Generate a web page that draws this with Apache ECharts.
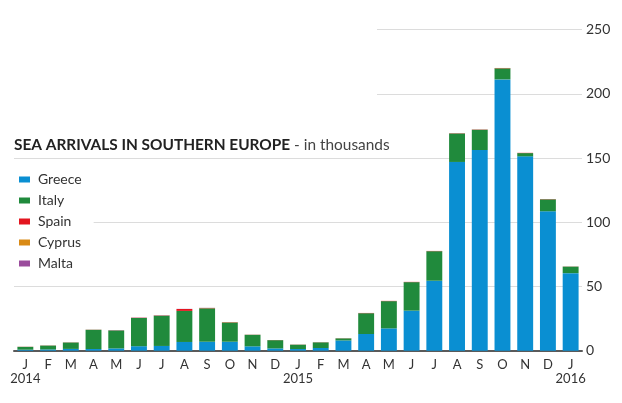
<!DOCTYPE html>
<html>
<head>
<meta charset="utf-8">
<script src="https://cdn.jsdelivr.net/npm/echarts@6/dist/echarts.min.js"></script>
<style>
html,body{margin:0;padding:0;background:#fff;}
#chart{width:622px;height:403px;}
</style>
</head>
<body>
<div id="chart"></div>
<script>
const months = ['J','F','M','A','M','J','J','A','S','O','N','D','J','F','M','A','M','J','J','A','S','O','N','D','J'];
const years = {0:'2014',12:'2015',24:'2016'};
const greece = [0.8,1.0,1.4,1.3,1.8,3.5,3.7,6.8,7.0,7.0,3.4,1.8, 1.3,2.1,8.0,13.0,17.4,31.2,54.5,147.0,156.3,211.3,151.4,108.6, 60.4];
const italy  = [2.2,3.0,5.0,15.0,14.0,22.0,23.6,24.2,26.0,15.0,9.0,6.4, 3.4,4.4,1.6,16.2,21.2,22.2,23.0,22.2,15.8,8.6,2.5,9.3, 5.1];
const spain  = [0.1,0.1,0.1,0.1,0.1,0.2,0.2,1.5,0.2,0.2,0.1,0.1, 0.1,0.1,0.1,0.2,0.2,0.2,0.2,0.2,0.2,0.2,0.2,0.2, 0.1];
const cyprus = [0,0,0,0,0,0,0,0,0.1,0.1,0,0, 0,0,0,0,0,0,0,0,0,0.1,0,0, 0];
const malta  = [0,0,0,0,0.1,0.1,0.1,0.1,0.1,0,0,0, 0,0,0,0,0,0,0,0,0,0,0,0, 0];
const yTicks = [0,50,100,150,200,250];

const seriesDefs = [
  {name:'Greece', data:greece, color:'#0a8fd2'},
  {name:'Italy',  data:italy,  color:'#208a3c'},
  {name:'Spain',  data:spain,  color:'#e3151f'},
  {name:'Cyprus', data:cyprus, color:'#d98a16'},
  {name:'Malta',  data:malta,  color:'#9a4c9c'}
];

const chart = echarts.init(document.getElementById('chart'), null, {renderer:'canvas'});
chart.setOption({
  animation:false,
  backgroundColor:'#fff',
  textStyle:{fontFamily:'Lato'},
  title:{
    left:9, top:133,
    text:'{b|SEA ARRIVALS IN SOUTHERN EUROPE}{n| - in thousands}',
    textStyle:{
      rich:{
        b:{fontFamily:'Lato', fontWeight:'bold', fontSize:15.4, color:'#222'},
        n:{fontFamily:'Lato', fontWeight:'normal', fontSize:15.4, color:'#444'}
      }
    }
  },
  legend:{
    orient:'vertical', left:14, top:171.5,
    icon:'rect', itemWidth:11, itemHeight:6, itemGap:5,
    backgroundColor:'#fff',
    padding:[0,12,0,5],
    textStyle:{fontFamily:'Lato', fontSize:14, color:'#333', lineHeight:16, padding:[0,0,0,3]},
    data: seriesDefs.map(s=>s.name)
  },
  graphic:[{
    type:'rect', z:5, silent:true,
    shape:{x:0, y:0, width:377, height:110},
    style:{fill:'#fff'}
  }],
  grid:{left:14, right:40, top:29.7, bottom:52.3, containLabel:false},
  xAxis:{
    type:'category',
    data: months.map((m,i)=> years[i] ? m + '\n' + years[i] : m),
    axisLine:{lineStyle:{color:'#5a5a5a', width:2}},
    axisTick:{show:false},
    axisLabel:{fontFamily:'Lato', fontSize:13, color:'#333', lineHeight:14, margin:7, interval:0}
  },
  yAxis:{
    type:'value', position:'right', min:yTicks[0], max:yTicks[yTicks.length-1], interval:50,
    axisLine:{show:false}, axisTick:{show:false},
    splitLine:{lineStyle:{color:'#dcdcdc', width:1}},
    axisLabel:{fontFamily:'Lato', fontSize:14, color:'#333', margin:4}
  },
  series: seriesDefs.map(s=>({
    name:s.name, type:'bar', stack:'total', data:s.data,
    barCategoryGap:'30%',
    itemStyle:{color:s.color},
    emphasis:{disabled:true}
  }))
});
</script>
</body>
</html>
